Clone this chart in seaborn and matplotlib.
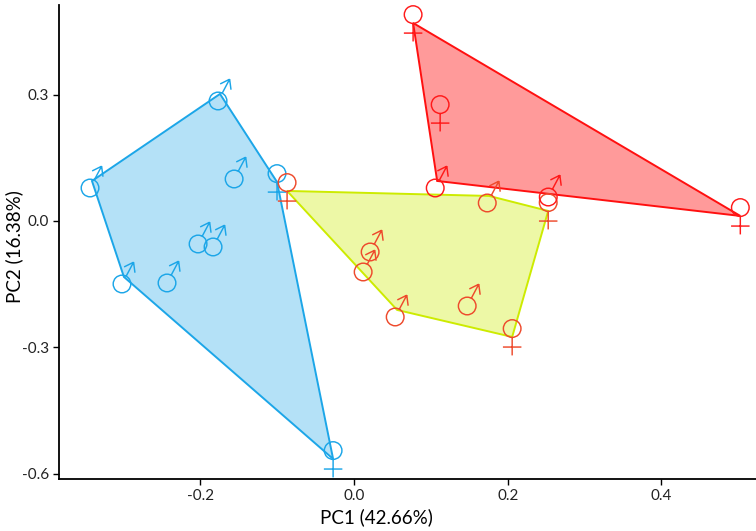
import numpy as np
import pandas as pd
import matplotlib
matplotlib.use("Agg")
import matplotlib.pyplot as plt
import seaborn as sns
from matplotlib.path import Path

# PCA scores, one set per group
pc1_blue = [-0.1745, -0.3411, -0.2995, -0.1536, -0.2005, -0.1810, -0.2409, -0.1003, -0.0273]
pc2_blue = [0.3017, 0.0950, -0.1330, 0.1164, -0.0380, -0.0451, -0.1306, 0.0926, -0.5653]
sex_blue = ['M', 'M', 'M', 'M', 'M', 'M', 'M', 'F', 'F']

pc1_yellow = [-0.0872, 0.0234, 0.0143, 0.0560, 0.1497, 0.2057, 0.2526, 0.1758]
pc2_yellow = [0.0713, -0.0570, -0.1045, -0.2114, -0.1853, -0.2755, 0.0238, 0.0594]
sex_yellow = ['F', 'M', 'M', 'M', 'M', 'F', 'F', 'M']

pc1_red = [0.0768, 0.1120, 0.1081, 0.2552, 0.5026]
pc2_red = [0.4703, 0.2565, 0.0950, 0.0736, 0.0119]
sex_red = ['F', 'F', 'M', 'M', 'F']

groups = ['blue', 'yellow', 'red']
hull_edge = {'blue': '#1CA6E8', 'yellow': '#CDEB00', 'red': '#FF1010'}
hull_alpha = {'blue': 0.33, 'yellow': 0.35, 'red': 0.42}
point_col = {'blue': '#1CA6E8', 'yellow': '#EE4A2C', 'red': '#FF1A1A'}

x_ticks = [-0.2, 0.0, 0.2, 0.4]
y_ticks = [-0.6, -0.3, 0.0, 0.3]

df = pd.concat([
    pd.DataFrame({'PC1': pc1_blue, 'PC2': pc2_blue, 'sex': sex_blue, 'group': 'blue'}),
    pd.DataFrame({'PC1': pc1_yellow, 'PC2': pc2_yellow, 'sex': sex_yellow, 'group': 'yellow'}),
    pd.DataFrame({'PC1': pc1_red, 'PC2': pc2_red, 'sex': sex_red, 'group': 'red'}),
], ignore_index=True)


def convex_hull(pts):
    pts = sorted(map(tuple, pts))
    def cross(o, a, b):
        return (a[0] - o[0]) * (b[1] - o[1]) - (a[1] - o[1]) * (b[0] - o[0])
    lower, upper = [], []
    for p in pts:
        while len(lower) >= 2 and cross(lower[-2], lower[-1], p) <= 0:
            lower.pop()
        lower.append(p)
    for p in reversed(pts):
        while len(upper) >= 2 and cross(upper[-2], upper[-1], p) <= 0:
            upper.pop()
        upper.append(p)
    return np.array(lower[:-1] + upper[:-1])


def seg(a, b):
    return Path([a, b], [Path.MOVETO, Path.LINETO])


# line-art sex symbols, unit = circle radius, origin = the data point
def male_path():
    c = np.array([-0.22, -0.80])
    ang = np.deg2rad(62)
    d = np.array([np.cos(ang), np.sin(ang)])
    start = c + d
    tip = c + 2.8 * d
    back = ang + np.pi
    b1 = tip + 1.2 * np.array([np.cos(back - 0.62), np.sin(back - 0.62)])
    b2 = tip + 1.2 * np.array([np.cos(back + 0.62), np.sin(back + 0.62)])
    return Path.make_compound_path(Path.circle(tuple(c), 1.0), seg(start, tip),
                                   seg(b1, tip), seg(b2, tip))


def female_path():
    c = np.array([0.0, 0.95])
    return Path.make_compound_path(Path.circle(tuple(c), 1.0),
                                   seg((0, c[1] - 1), (0, c[1] - 3.05)),
                                   seg((-1.05, c[1] - 2.1), (1.05, c[1] - 2.1)))


r_px = 8.8
marks = {'M': male_path(), 'F': female_path()}
# markers are normalised by their largest |vertex|; undo that so both share radius r_px
msize = {k: (2 * np.abs(p.vertices).max() * r_px * 0.72) ** 2 for k, p in marks.items()}

sns.set_theme(style='ticks')
plt.rcParams['font.family'] = ['Lato', 'DejaVu Sans']
plt.rcParams['axes.unicode_minus'] = False

fig = plt.figure(figsize=(7.56, 5.31), dpi=100)
ax = fig.add_axes([59 / 756, 52 / 531, 697 / 756, 474 / 531])

for g in groups:
    sub = df[df['group'] == g]
    hull = convex_hull(sub[['PC1', 'PC2']].values)
    ax.fill(hull[:, 0], hull[:, 1], facecolor=hull_edge[g], alpha=hull_alpha[g],
            edgecolor='none', zorder=1)
    ax.fill(hull[:, 0], hull[:, 1], facecolor='none', edgecolor=hull_edge[g],
            linewidth=1.4, zorder=2)

sns.scatterplot(data=df, x='PC1', y='PC2', hue='group', style='sex', size='sex',
                palette=point_col, hue_order=groups, markers=marks, sizes=msize,
                linewidth=1.05, edgecolor='none', legend=False, ax=ax, zorder=3)
pts = ax.collections[-1]
pts.set_edgecolors(pts.get_facecolors())
pts.set_facecolors('none')

ax.set_xlim(-0.384, 0.523)
ax.set_ylim(-0.613, 0.513)
ax.set_xticks(x_ticks)
ax.set_yticks(y_ticks)
ax.set_xticklabels([f'{t:.1f}' for t in x_ticks])
ax.set_yticklabels([f'{t:.1f}' for t in y_ticks])
ax.tick_params(direction='out', length=4, width=1, colors='black', labelsize=11,
               labelcolor='#222222', pad=3)
for s in ['top', 'right']:
    ax.spines[s].set_visible(False)
for s in ['left', 'bottom']:
    ax.spines[s].set_color('black')
    ax.spines[s].set_linewidth(1.3)

ax.set_xlabel('PC1 (42.66%)', fontsize=13.5, color='black')
ax.set_ylabel('PC2 (16.38%)', fontsize=13.5, color='black')
ax.xaxis.set_label_coords(0.456, -0.062)
ax.yaxis.set_label_coords(-0.052, 0.49)

fig.savefig('out.png', dpi=100)
